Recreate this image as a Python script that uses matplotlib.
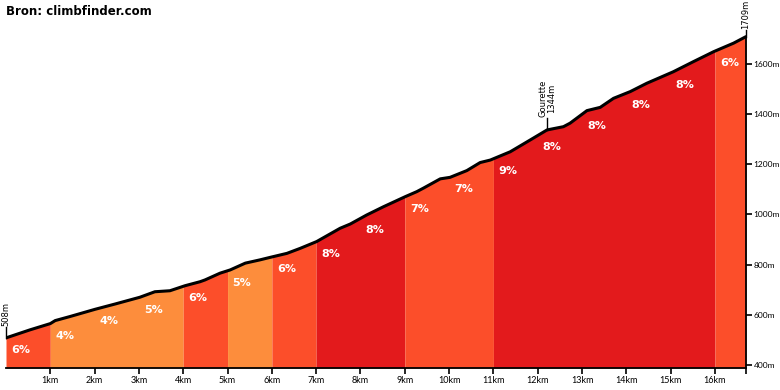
import matplotlib
matplotlib.use("Agg")
import matplotlib.pyplot as plt
import numpy as np

# profile: distance (km) and elevation (m)
dist = [0.0, 0.54, 1.0, 1.11, 1.44, 2.01, 2.46, 3.02, 3.36, 3.70, 4.04, 4.38, 4.49,
        4.83, 5.06, 5.40, 5.73, 5.96, 6.34, 6.64, 7.01, 7.54, 7.77, 8.14, 8.52,
        9.01, 9.27, 9.42, 9.80, 10.02, 10.40, 10.70, 10.93, 11.38, 11.83, 12.21,
        12.58, 12.73, 13.11, 13.41, 13.71, 14.09, 14.46, 15.06, 15.51, 15.97,
        16.42, 16.7]
elev = [508, 540, 565, 577, 593, 622, 643, 670, 692, 696, 716, 732, 739,
        766, 779, 806, 819, 829, 845, 865, 892, 945, 962, 998, 1031,
        1071, 1091, 1105, 1142, 1148, 1175, 1207, 1217, 1250, 1297, 1337,
        1350, 1364, 1414, 1427, 1463, 1490, 1523, 1569, 1609, 1649,
        1683, 1709]

# one gradient per km section
seg_start = [0, 1, 2, 3, 4, 5, 6, 7, 8, 9, 10, 11, 12, 13, 14, 15, 16]
seg_end = [1, 2, 3, 4, 5, 6, 7, 8, 9, 10, 11, 12, 13, 14, 15, 16, 16.7]
grade = [6, 4, 4, 5, 6, 5, 6, 8, 8, 7, 7, 9, 8, 8, 8, 8, 6]

ytick_vals = [400, 600, 800, 1000, 1200, 1400, 1600]
xtick_vals = list(range(1, 17))

# (km, elevation, label, stem length in m)
pois = [(0.0, 508, "508m", 44), (12.22, 1337, "Gourette\n1344m", 48),
        (16.7, 1709, "1709m", 28)]

BOTTOM = 388


def grade_color(g):
    if g <= 5:
        return "#fd8d3c"
    if g <= 7:
        return "#fc4e2a"
    return "#e31a1c"


fig = plt.figure(figsize=(7.8, 3.9), dpi=100)
ax = fig.add_axes([6 / 780, 22 / 390, 740 / 780, 368 / 390])
ax.set_xlim(0, 16.7)
ax.set_ylim(BOTTOM, 1855)

d = np.array(dist)
e = np.array(elev)

# merge neighbouring sections of the same colour so no seams show
runs = []
for s0, s1, g in zip(seg_start, seg_end, grade):
    c = grade_color(g)
    if runs and runs[-1][2] == c:
        runs[-1][1] = s1
    else:
        runs.append([s0, s1, c])

for s0, s1, c in runs:
    xs = np.unique(np.concatenate([[s0, s1], d[(d > s0) & (d < s1)]]))
    ys = np.interp(xs, d, e)
    ax.fill_between(xs, BOTTOM, ys, color=c, lw=0)

for s0, g in zip(seg_start, grade):
    ax.annotate(f"{g}%", (s0, np.interp(s0, d, e)), xytext=(5, -7),
                textcoords="offset pixels", ha="left", va="top",
                color="white", fontsize=8, fontweight="bold", family="DejaVu Sans")

ax.plot(d, e, color="black", lw=2.2, solid_capstyle="round",
        solid_joinstyle="round", zorder=5)

# markers with rotated labels
for px, py, txt, stem in pois:
    ax.plot([px, px], [py, py + stem], color="black", lw=1, zorder=4, clip_on=False)
    ax.text(px, py + stem + 4, txt, rotation=90, ha="center", va="bottom",
            fontsize=6, family="DejaVu Sans", linespacing=1.0)

for sp in ["top", "left"]:
    ax.spines[sp].set_visible(False)
ax.spines["right"].set_bounds(BOTTOM, 1709)
ax.spines["bottom"].set_linewidth(1.3)
ax.spines["right"].set_linewidth(1.3)

ax.yaxis.tick_right()
ax.set_yticks(ytick_vals)
ax.set_yticklabels([f"{v}m" for v in ytick_vals], family="Lato")
ax.set_xticks(xtick_vals + [16.7])
ax.set_xticklabels([f"{v}km" for v in xtick_vals] + [""], family="Lato")
ax.tick_params(axis="x", labelsize=6.5, length=4, width=1.2, pad=2)
ax.tick_params(axis="y", labelsize=6, length=4, width=1.2, pad=1.5)

fig.text(6 / 780, 1 - 5 / 390, "Bron: climbfinder.com", ha="left", va="top",
         fontsize=8.5, fontweight="bold", family="DejaVu Sans")

fig.savefig("out.png", dpi=100)
